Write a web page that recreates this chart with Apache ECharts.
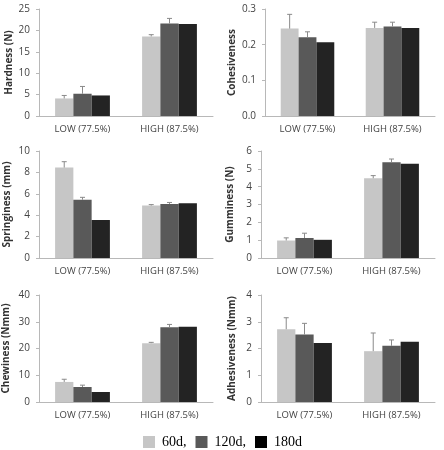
<!DOCTYPE html>
<html><head><meta charset="utf-8">
<script src="https://cdn.jsdelivr.net/npm/echarts@6/dist/echarts.min.js"></script>
<style>html,body{margin:0;padding:0;background:#fff}#c{width:444px;height:450px}</style>
</head><body><div id="c"></div>
<script>
const categories = ['LOW (77.5%)', 'HIGH (87.5%)'];
const seriesNames = ['60d', '120d', '180d'];

const hardness60 = [4.1, 18.6],   hardness60Err = [0.7, 0.4];
const hardness120 = [5.2, 21.6],  hardness120Err = [1.7, 1.2];
const hardness180 = [4.8, 21.5],  hardness180Err = [0, 0];

const cohesiveness60 = [0.245, 0.247],  cohesiveness60Err = [0.04, 0.016];
const cohesiveness120 = [0.221, 0.251], cohesiveness120Err = [0.015, 0.012];
const cohesiveness180 = [0.207, 0.247], cohesiveness180Err = [0, 0];

const springiness60 = [8.45, 4.9],  springiness60Err = [0.55, 0.09];
const springiness120 = [5.45, 5.05], springiness120Err = [0.22, 0.14];
const springiness180 = [3.55, 5.12], springiness180Err = [0, 0];

const gumminess60 = [0.98, 4.47],  gumminess60Err = [0.15, 0.15];
const gumminess120 = [1.12, 5.37], gumminess120Err = [0.27, 0.18];
const gumminess180 = [1.02, 5.28], gumminess180Err = [0, 0];

const chewiness60 = [7.5, 22.0],  chewiness60Err = [1.0, 0.3];
const chewiness120 = [5.6, 27.9], chewiness120Err = [0.7, 1.1];
const chewiness180 = [3.75, 28.1], chewiness180Err = [0, 0];

const adhesiveness60 = [2.72, 1.9],  adhesiveness60Err = [0.43, 0.68];
const adhesiveness120 = [2.52, 2.1], adhesiveness120Err = [0.42, 0.22];
const adhesiveness180 = [2.21, 2.25], adhesiveness180Err = [0, 0];

const panels = [
  {name: 'Hardness (N)', max: 25, interval: 5, dec: 0, vals: [hardness60, hardness120, hardness180], errs: [hardness60Err, hardness120Err, hardness180Err], grid: {left: 39, top: 9, width: 174, height: 107}, gap: 25},
  {name: 'Cohesiveness', max: 0.3, interval: 0.1, dec: 1, vals: [cohesiveness60, cohesiveness120, cohesiveness180], errs: [cohesiveness60Err, cohesiveness120Err, cohesiveness180Err], grid: {left: 265, top: 9, width: 170, height: 107}, gap: 28},
  {name: 'Springiness (mm)', max: 10, interval: 2, dec: 0, vals: [springiness60, springiness120, springiness180], errs: [springiness60Err, springiness120Err, springiness180Err], grid: {left: 39, top: 151, width: 174, height: 107}, gap: 27},
  {name: 'Gumminess (N)', max: 6, interval: 1, dec: 0, vals: [gumminess60, gumminess120, gumminess180], errs: [gumminess60Err, gumminess120Err, gumminess180Err], grid: {left: 261, top: 151, width: 174, height: 107}, gap: 26},
  {name: 'Chewiness (Nmm)', max: 40, interval: 10, dec: 0, vals: [chewiness60, chewiness120, chewiness180], errs: [chewiness60Err, chewiness120Err, chewiness180Err], grid: {left: 39, top: 295, width: 174, height: 107}, gap: 28},
  {name: 'Adhesiveness (Nmm)', max: 4, interval: 1, dec: 0, vals: [adhesiveness60, adhesiveness120, adhesiveness180], errs: [adhesiveness60Err, adhesiveness120Err, adhesiveness180Err], grid: {left: 261, top: 295, width: 174, height: 107}, gap: 24}
];

const colors = ['#c6c6c6', '#595959', '#232323'];
const legendColors = ['#c6c6c6', '#595959', '#000000'];
const catGap = 0.37;
const axisColor = '#b8b8b8';

const grids = [], xAxes = [], yAxes = [], series = [];
panels.forEach((p, gi) => {
  grids.push(Object.assign({containLabel: false}, p.grid));
  xAxes.push({
    type: 'category', gridIndex: gi, data: categories,
    axisLine: {lineStyle: {color: axisColor}},
    axisTick: {show: false},
    axisLabel: {fontSize: 9.5, color: '#444', margin: 8, fontFamily: 'Open Sans'}
  });
  yAxes.push({
    type: 'value', gridIndex: gi, min: 0, max: p.max, interval: p.interval,
    name: p.name, nameLocation: 'middle', nameGap: p.gap, nameRotate: 90,
    nameTextStyle: {fontSize: 10, fontWeight: 'bold', color: '#333', fontFamily: 'Open Sans'},
    axisLine: {show: true, lineStyle: {color: axisColor}},
    axisTick: {show: true, length: 3, lineStyle: {color: axisColor}},
    splitLine: {show: false},
    axisLabel: {fontSize: 10, color: '#444', margin: 9, fontFamily: 'Open Sans',
      formatter: v => v.toFixed(p.dec)}
  });
  p.vals.forEach((arr, si) => {
    series.push({
      type: 'bar', name: seriesNames[si], xAxisIndex: gi, yAxisIndex: gi,
      data: arr, barGap: '0%', barCategoryGap: (catGap * 100) + '%',
      itemStyle: {color: colors[si]}, z: 2
    });
  });
  const errData = [];
  p.vals.forEach((arr, si) => {
    arr.forEach((v, ci) => {
      if (p.errs[si][ci] > 0) errData.push([ci, v, p.errs[si][ci], si]);
    });
  });
  series.push({
    type: 'custom', xAxisIndex: gi, yAxisIndex: gi, data: errData, z: 3,
    silent: true,
    renderItem: (params, api) => {
      const ci = api.value(0), v = api.value(1), e = api.value(2), si = api.value(3);
      const base = api.coord([ci, v]);
      const top = api.coord([ci, v + e]);
      const band = api.size([1, 0])[0];
      const bw = band * (1 - catGap) / 3;
      const x = base[0] + (si - 1) * bw;
      const style = {stroke: '#8a8a8a', lineWidth: 1};
      return {type: 'group', children: [
        {type: 'line', shape: {x1: x, y1: base[1], x2: x, y2: top[1]}, style: style},
        {type: 'line', shape: {x1: x - 2.5, y1: top[1], x2: x + 2.5, y2: top[1]}, style: style}
      ]};
    }
  });
});

const chart = echarts.init(document.getElementById('c'), null, {renderer: 'canvas'});
chart.setOption({
  animation: false,
  color: legendColors,
  grid: grids, xAxis: xAxes, yAxis: yAxes, series: series,
  legend: {
    data: seriesNames.map((n, i) => ({name: n, itemStyle: {color: legendColors[i]}})),
    left: 138, top: 430, itemWidth: 12, itemHeight: 12, itemGap: 9,
    icon: 'rect',
    formatter: n => n === '180d' ? n : n + ',',
    textStyle: {fontFamily: 'Liberation Serif', fontSize: 14, color: '#000', padding: [0,0,0,2]}
  }
});
</script></body></html>
